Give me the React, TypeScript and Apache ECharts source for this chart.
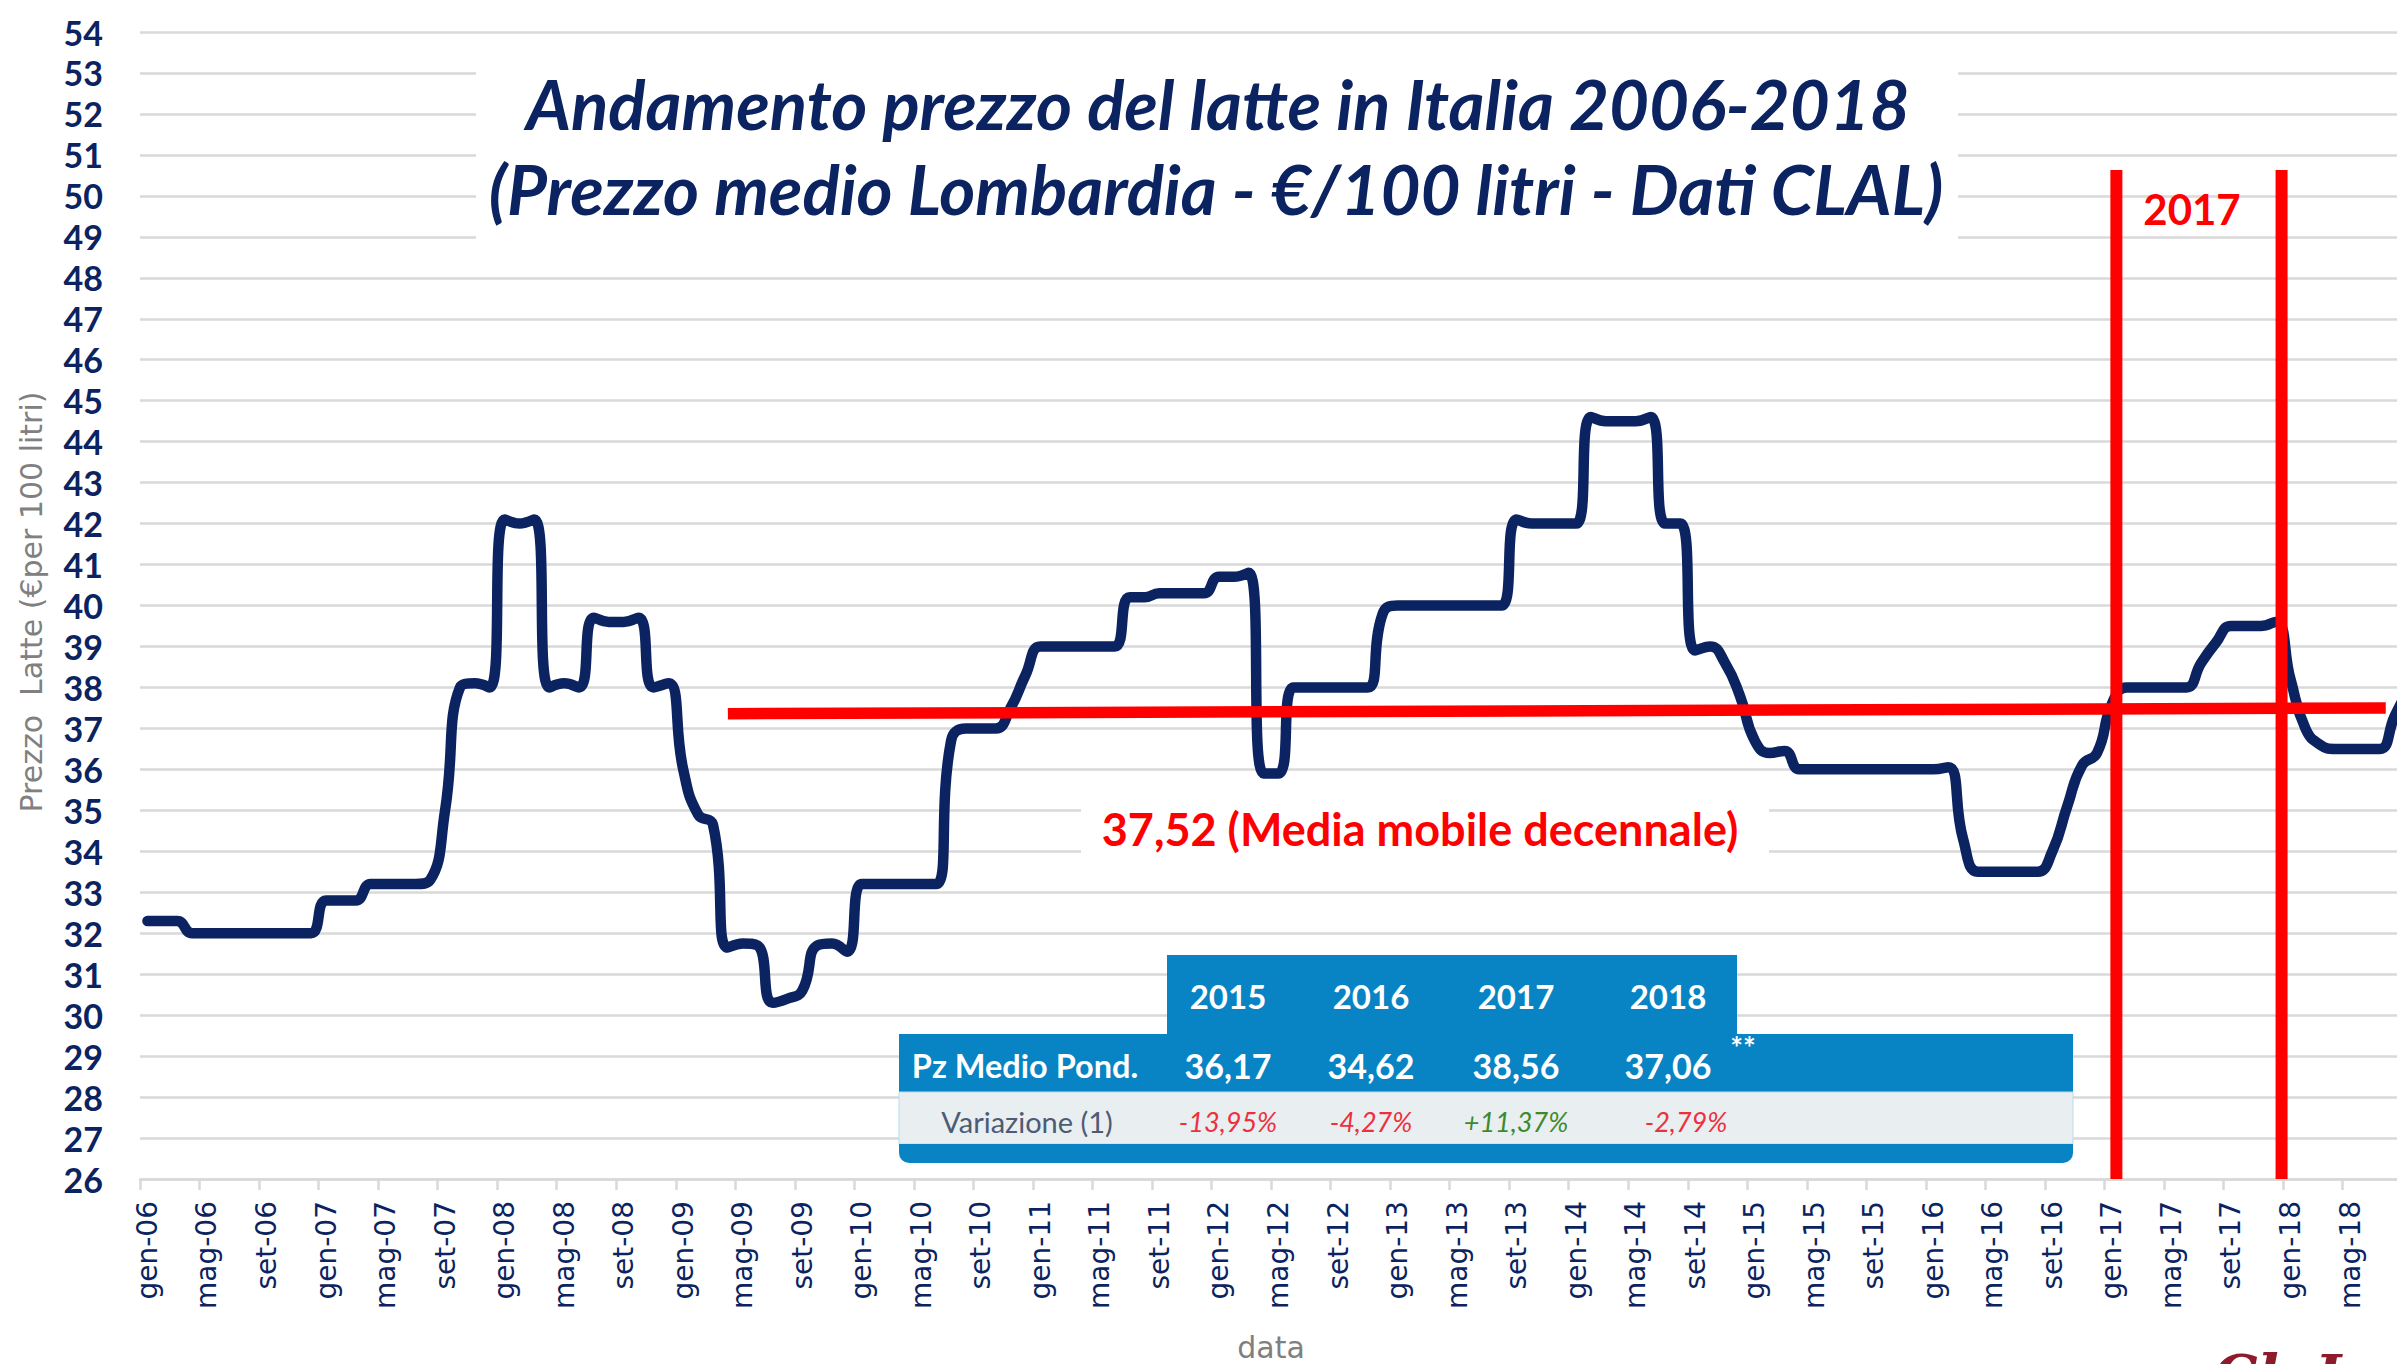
import React, { useEffect, useRef } from "react";
import * as echarts from "echarts";

// ---- data ----
const monthNames = ["gen", "feb", "mar", "apr", "mag", "giu", "lug", "ago", "set", "ott", "nov", "dic"];
const yearSuffixes = ["06", "07", "08", "09", "10", "11", "12", "13", "14", "15", "16", "17", "18"];
const categories: string[] = [];
yearSuffixes.forEach((y) => monthNames.forEach((m) => categories.push(`${m}-${y}`)));

// Prezzo medio Lombardia (€/100 litri), monthly gen-06 .. set-18
const prezzo2006 = [32.3, 32.3, 32.3, 32.0, 32.0, 32.0, 32.0, 32.0, 32.0, 32.0, 32.0, 32.0];
const prezzo2007 = [32.8, 32.8, 32.8, 33.2, 33.2, 33.2, 33.2, 33.3, 35.0, 38.0, 38.1, 38.0];
const prezzo2008 = [42.1, 42.0, 42.1, 38.0, 38.1, 38.0, 39.7, 39.6, 39.6, 39.7, 38.0, 38.1];
const prezzo2009 = [36.0, 34.9, 34.65, 31.65, 31.75, 31.7, 30.3, 30.4, 30.6, 31.7, 31.75, 31.55];
const prezzo2010 = [33.2, 33.2, 33.2, 33.2, 33.2, 33.2, 36.7, 37.0, 37.0, 37.0, 37.5, 38.3];
const prezzo2011 = [39.0, 39.0, 39.0, 39.0, 39.0, 39.0, 40.2, 40.2, 40.3, 40.3, 40.3, 40.3];
const prezzo2012 = [40.7, 40.7, 40.8, 35.9, 35.9, 38.0, 38.0, 38.0, 38.0, 38.0, 38.0, 39.8];
const prezzo2013 = [40.0, 40.0, 40.0, 40.0, 40.0, 40.0, 40.0, 40.0, 42.1, 42.0, 42.0, 42.0];
const prezzo2014 = [42.0, 44.6, 44.5, 44.5, 44.5, 44.6, 42.0, 42.0, 38.9, 39.0, 38.6, 37.8];
const prezzo2015 = [36.7, 36.4, 36.45, 36.0, 36.0, 36.0, 36.0, 36.0, 36.0, 36.0, 36.0, 36.0];
const prezzo2016 = [36.0, 36.05, 34.3, 33.5, 33.5, 33.5, 33.5, 33.5, 34.0, 35.1, 36.1, 36.4];
const prezzo2017 = [37.6, 38.0, 38.0, 38.0, 38.0, 38.0, 38.6, 39.1, 39.5, 39.5, 39.5, 39.6];
const prezzo2018 = [38.2, 37.0, 36.6, 36.5, 36.5, 36.5, 36.5, 37.3, 38.0];

const prezzo = [
  ...prezzo2006, ...prezzo2007, ...prezzo2008, ...prezzo2009, ...prezzo2010, ...prezzo2011,
  ...prezzo2012, ...prezzo2013, ...prezzo2014, ...prezzo2015, ...prezzo2016, ...prezzo2017, ...prezzo2018,
];
const months = categories.slice(0, prezzo.length);
const lastLabelIndex = 148; // mag-18

// moving-average reference line (start / end, in month-index and value)
const mediaMobile = [[39.0, 37.36], [150.4, 37.5]];
const mediaMobileLabel = "37,52 (Media mobile decennale)";
// vertical markers delimiting 2017 (month-index)
const marker2017 = [132.3, 143.4];
const markerTop = 50.63;

// table
const tableYears = ["2015", "2016", "2017", "2018"];
const tablePrices = ["36,17", "34,62", "38,56", "37,06"];
const tableVariations = ["-13,95%", "-4,27%", "+11,37%", "-2,79%"];
const tableVarColors = ["#ee2f3c", "#ee2f3c", "#3d8a2c", "#ee2f3c"];

const NAVY = "#0b2360";
const GRID = "#d9d9d9";
const BLUE = "#0884c4";

export default function App() {
  const ref = useRef<HTMLDivElement>(null);
  useEffect(() => {
    if (!ref.current) return;
    const chart = echarts.init(ref.current, null, { renderer: "svg" });

    const colX = [1228, 1371, 1516, 1668];
    const graphic: any[] = [
      // title box
      { type: "rect", z: 50, shape: { x: 476, y: 46, width: 1482, height: 212 }, style: { fill: "#fff" } },
      {
        type: "text", z: 51, x: 1218, y: 103,
        style: { text: "Andamento prezzo del latte in Italia 2006-2018", fontFamily: "Lato", fontWeight: "bold", fontStyle: "italic", fontSize: 69, fill: NAVY, align: "center", verticalAlign: "middle" },
      },
      {
        type: "text", z: 51, x: 1216, y: 188,
        style: { text: "(Prezzo medio Lombardia - €/100 litri - Dati CLAL)", fontFamily: "Lato", fontWeight: "bold", fontStyle: "italic", fontSize: 69, fill: NAVY, align: "center", verticalAlign: "middle" },
      },
      // 2017 label
      { type: "text", z: 51, x: 2192, y: 209, style: { text: "2017", fontFamily: "Lato", fontWeight: "bold", fontSize: 42, fill: "#ff0000", align: "center", verticalAlign: "middle" } },
      // moving average label
      { type: "rect", z: 50, shape: { x: 1081, y: 784, width: 688, height: 90 }, style: { fill: "#fff" } },
      { type: "text", z: 51, x: 1420, y: 829, style: { text: mediaMobileLabel, fontFamily: "Lato", fontWeight: "bold", fontSize: 45, fill: "#ff0000", align: "center", verticalAlign: "middle" } },
      // table
      { type: "rect", z: 50, shape: { x: 1167, y: 955, width: 570, height: 80 }, style: { fill: BLUE } },
      { type: "rect", z: 50, shape: { x: 899, y: 1034, width: 1174, height: 58 }, style: { fill: BLUE } },
      { type: "rect", z: 50, shape: { x: 899, y: 1092, width: 1174, height: 52 }, style: { fill: "#e9eef1", stroke: "#b9dcef", lineWidth: 1 } },
      { type: "rect", z: 50, shape: { x: 899, y: 1144, width: 1174, height: 19, r: [0, 0, 10, 10] }, style: { fill: BLUE } },
      { type: "text", z: 51, x: 1025, y: 1065, style: { text: "Pz Medio Pond.", fontFamily: "Lato", fontWeight: "bold", fontSize: 32.5, fill: "#fff", align: "center", verticalAlign: "middle" } },
      { type: "text", z: 51, x: 1027, y: 1121, style: { text: "Variazione (1)", fontFamily: "Lato", fontSize: 29, fill: "#4d5b73", align: "center", verticalAlign: "middle" } },
      { type: "text", z: 51, x: 1743, y: 1047, style: { text: "**", fontFamily: "Lato", fontWeight: "bold", fontSize: 30, fill: "#fff", align: "center", verticalAlign: "middle" } },
      // axis titles
      { type: "text", z: 51, x: 31, y: 602, rotation: Math.PI / 2, style: { text: "Prezzo  Latte (€per 100 litri)", fontFamily: "DejaVu Sans", fontSize: 30, fill: "#808080", align: "center", verticalAlign: "middle" } },
      { type: "text", z: 51, x: 1271, y: 1347, style: { text: "data", fontFamily: "DejaVu Sans", fontSize: 30, fill: "#808080", align: "center", verticalAlign: "middle" } },
      // logo (cropped)
      { type: "text", z: 51, x: 2213, y: 1347, style: { text: "ClaL", fontFamily: "DejaVu Serif", fontWeight: "bold", fontStyle: "italic", fontSize: 56, fill: "#8e1b2b", align: "left", verticalAlign: "top" } },
    ];
    tableYears.forEach((t, k) =>
      graphic.push({ type: "text", z: 51, x: colX[k], y: 996, style: { text: t, fontFamily: "Lato", fontWeight: "bold", fontSize: 33, fill: "#fff", align: "center", verticalAlign: "middle" } })
    );
    tablePrices.forEach((t, k) =>
      graphic.push({ type: "text", z: 51, x: colX[k], y: 1065, style: { text: t, fontFamily: "Lato", fontWeight: "bold", fontSize: 34, fill: "#fff", align: "center", verticalAlign: "middle" } })
    );
    tableVariations.forEach((t, k) =>
      graphic.push({ type: "text", z: 51, x: colX[k] + (k === 3 ? 18 : 0), y: 1121, style: { text: t, fontFamily: "Lato", fontStyle: "italic", fontSize: 27, fill: tableVarColors[k], align: "center", verticalAlign: "middle" } })
    );

    const option: any = {
      animation: false,
      backgroundColor: "#ffffff",
      grid: { left: 140, right: 0, top: 32, bottom: 185, containLabel: false },
      xAxis: [
        {
          type: "category",
          data: months,
          boundaryGap: true,
          axisLine: { show: true, lineStyle: { color: GRID, width: 2.5 } },
          axisTick: { show: true, interval: 3, length: 11, lineStyle: { color: GRID, width: 2.5 } },
          axisLabel: {
            interval: (index: number) => index % 4 === 0 && index <= lastLabelIndex,
            rotate: 90, margin: 22, fontFamily: "DejaVu Sans", fontSize: 28, color: NAVY,
          },
          splitLine: { show: false },
        },
        { type: "value", min: -0.5, max: months.length - 0.5, show: false },
      ],
      yAxis: {
        type: "value",
        min: 26,
        max: 54,
        interval: 1,
        axisLine: { show: false },
        axisTick: { show: false },
        axisLabel: { margin: 37, fontFamily: "Lato", fontWeight: "bold", fontSize: 34, color: NAVY },
        splitLine: { show: true, lineStyle: { color: GRID, width: 2.5 } },
      },
      series: [
        {
          type: "line",
          xAxisIndex: 0,
          data: prezzo,
          smooth: 0.5,
          symbol: "none",
          lineStyle: { color: NAVY, width: 10.5, cap: "round", join: "round" },
          z: 3,
        },
        {
          type: "line",
          xAxisIndex: 1,
          data: mediaMobile,
          symbol: "none",
          lineStyle: { color: "#ff0000", width: 11.5 },
          z: 4,
        },
        ...marker2017.map((x) => ({
          type: "line",
          xAxisIndex: 1,
          data: [[x, 26], [x, markerTop]],
          symbol: "none",
          lineStyle: { color: "#ff0000", width: 12 },
          z: 4,
        })),
      ],
      graphic,
    };
    chart.setOption(option);
    return () => chart.dispose();
  }, []);

  return (
    <div style={{ position: "absolute", left: 0, top: 0, width: 2397, height: 1364, overflow: "hidden", background: "#fff" }}>
      <div ref={ref} style={{ width: 2417, height: 1364 }} />
    </div>
  );
}
